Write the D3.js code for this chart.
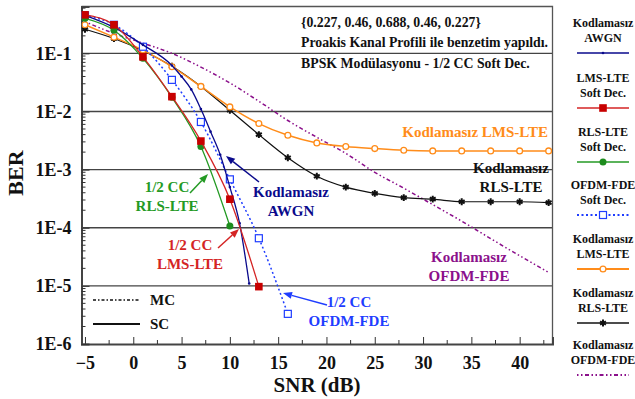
<!DOCTYPE html>
<meta charset="utf-8">
<style>
  body { margin: 0; background: #fff; }
  text { font-family: "Liberation Serif", "Times New Roman", serif; font-weight: bold; }
</style>
<body>
<script src="https://cdn.jsdelivr.net/npm/d3@7"></script>
<script>

    // ---- data ----
    var snrAwgn = [-5, -2, 1, 4, 5, 6, 7, 8, 9, 10, 11, 12];
    var berAwgn = [0.45, 0.28, 0.14, 0.062, 0.04, 0.024, 0.011, 4.5e-3, 1.8e-3, 5e-4, 1.2e-4, 1.1e-5];

    var snrLms = [-5, -2, 1, 4, 7, 10, 13];
    var berLms = [0.46, 0.31, 0.087, 0.018, 3.1e-3, 3.1e-4, 9.7e-6];

    var snrRls = [-5, -2, 1, 4, 7, 10];
    var berRls = [0.40, 0.25, 0.082, 0.0175, 2.5e-3, 1.07e-4];

    var snrOfdm = [-5, -2, 1, 4, 7, 10, 13, 16];
    var berOfdm = [0.45, 0.31, 0.13, 0.035, 6.6e-3, 6.8e-4, 6.6e-5, 3.3e-6];

    var snrFull = [-5, -2, 1, 4, 7, 10, 13, 16, 19, 22, 25, 28, 31, 34, 37, 40, 43];
    var berLmsUnc = [0.31, 0.19, 0.114, 0.059, 0.027, 0.012, 6.2e-3, 3.9e-3, 2.88e-3, 2.5e-3, 2.3e-3, 2.15e-3, 2.1e-3, 2.1e-3, 2.1e-3, 2.1e-3, 2.1e-3];
    var berRlsUnc = [0.26, 0.18, 0.111, 0.06, 0.027, 0.0105, 4e-3, 1.6e-3, 7.7e-4, 5e-4, 3.9e-4, 3.3e-4, 3.1e-4, 2.8e-4, 2.8e-4, 2.8e-4, 2.7e-4];
    var berOfdmUnc = [0.35, 0.22, 0.15, 0.1, 0.058, 0.031, 0.015, 7e-3, 3.6e-3, 1.9e-3, 9e-4, 4.8e-4, 2.5e-4, 1.3e-4, 6.5e-5, 3.3e-5, 1.7e-5];

    var xTicks = [-5, 0, 5, 10, 15, 20, 25, 30, 35, 40];
    var yTicks = [1e-6, 1e-5, 1e-4, 1e-3, 1e-2, 1e-1];
    var yTickLabels = ["1E-6", "1E-5", "1E-4", "1E-3", "1E-2", "1E-1"];

    var W = 635, H = 399;
    var pLeft = 81.5, pRight = 552.5, pTop = 6.5, pBottom = 344;

    var x = d3.scaleLinear().domain([-5.36, 43.4]).range([pLeft, pRight]);
    var y = d3.scaleLog().domain([1e-6, 0.64]).range([pBottom, pTop]);

    var svg = d3.select("body").append("svg")
        .attr("width", W)
        .attr("height", H);

    svg.append("clipPath").attr("id", "plot")
        .append("rect")
        .attr("x", pLeft).attr("y", pTop)
        .attr("width", pRight - pLeft).attr("height", pBottom - pTop);

    // grid lines at decades
    svg.append("g").selectAll("line")
        .data(yTicks.slice(1))
        .enter().append("line")
        .attr("x1", pLeft).attr("x2", pRight)
        .attr("y1", function (d) { return y(d); })
        .attr("y2", function (d) { return y(d); })
        .attr("stroke", "#444").attr("stroke-width", 1.3);

    // top / right frame
    svg.append("path")
        .attr("d", "M" + pLeft + "," + pTop + "H" + pRight + "V" + pBottom)
        .attr("fill", "none").attr("stroke", "#555").attr("stroke-width", 1.3);

    // x axis
    var xAxis = svg.append("g")
        .attr("transform", "translate(0," + pBottom + ")")
        .call(d3.axisBottom(x).tickValues(xTicks).tickSize(-7).tickPadding(12).tickFormat(d3.format("d")));
    xAxis.selectAll(".tick text").attr("font-size", 18).attr("fill", "#111")
        .attr("font-family", "Liberation Serif, serif").attr("font-weight", "bold");
    xAxis.append("g").selectAll("line")
        .data(d3.range(-2.5, 43.4, 5))
        .enter().append("line")
        .attr("x1", function (d) { return x(d); }).attr("x2", function (d) { return x(d); })
        .attr("y1", 0).attr("y2", -4).attr("stroke", "#333");
    xAxis.select(".domain").attr("stroke", "#444").attr("stroke-width", 2);
    xAxis.selectAll(".tick line").attr("stroke", "#333");

    // y axis
    var yAxis = svg.append("g")
        .attr("transform", "translate(" + pLeft + ",0)")
        .call(d3.axisLeft(y).tickValues(yTicks).tickSize(-8).tickPadding(10)
            .tickFormat(function (d, i) { return yTickLabels[i]; }));
    yAxis.selectAll(".tick text").attr("font-size", 18).attr("fill", "#111")
        .attr("font-family", "Liberation Serif, serif").attr("font-weight", "bold");
    var minors = [];
    yTicks.slice(0, -1).forEach(function (d) {
        for (var k = 2; k <= 9; k++) minors.push(d * k);
    });
    minors.push(0.2, 0.3, 0.4, 0.5, 0.6);
    yAxis.append("g").selectAll("line")
        .data(minors)
        .enter().append("line")
        .attr("x1", 0).attr("x2", 4)
        .attr("y1", function (d) { return y(d); }).attr("y2", function (d) { return y(d); })
        .attr("stroke", "#333");
    yAxis.select(".domain").attr("stroke", "#444").attr("stroke-width", 2);
    yAxis.selectAll(".tick line").attr("stroke", "#333");

    // axis titles
    svg.append("text")
        .attr("transform", "translate(23,173) rotate(-90)")
        .attr("text-anchor", "middle")
        .attr("font-size", 22).attr("fill", "#111")
        .text("BER");
    svg.append("text")
        .attr("x", 317).attr("y", 392)
        .attr("text-anchor", "middle")
        .attr("font-size", 21).attr("fill", "#111")
        .text("SNR (dB)");

    // ---- curves ----
    var series = [
        {snr: snrFull, ber: berOfdmUnc, color: "#8b108b", dash: "1.5,2.5,1.5,2.5,4,2.5", width: 1.5, marker: "none"},
        {snr: snrFull, ber: berRlsUnc, color: "#111", dash: null, width: 1.2, marker: "asterisk"},
        {snr: snrFull, ber: berLmsUnc, color: "#ff8c1a", dash: null, width: 1.5, marker: "circle"},
        {snr: snrOfdm, ber: berOfdm, color: "#1f3dff", dash: "2,2.5", width: 1.5, marker: "square-open"},
        {snr: snrAwgn, ber: berAwgn, color: "#0a0a8c", dash: null, width: 1.3, marker: "dot"},
        {snr: snrRls, ber: berRls, color: "#249a24", dash: null, width: 1.3, marker: "disc"},
        {snr: snrLms, ber: berLms, color: "#d42424", dash: null, width: 1.3, marker: "square"}
    ];

    var line = d3.line()
        .x(function (d) { return x(d[0]); })
        .y(function (d) { return y(d[1]); })
        .curve(d3.curveMonotoneX);

    var plot = svg.append("g").attr("clip-path", "url(#plot)");

    function drawMarker(g, kind, color, px, py) {
        if (kind === "square") {
            g.append("rect").attr("x", px - 3.8).attr("y", py - 3.8).attr("width", 7.6).attr("height", 7.6)
                .attr("fill", "#c80000");
        } else if (kind === "square-open") {
            g.append("rect").attr("x", px - 3.5).attr("y", py - 3.5).attr("width", 7).attr("height", 7)
                .attr("fill", "#fff").attr("stroke", color).attr("stroke-width", 1.2);
        } else if (kind === "disc") {
            g.append("circle").attr("cx", px).attr("cy", py).attr("r", 3.5).attr("fill", "#1e8c1e");
        } else if (kind === "circle") {
            g.append("circle").attr("cx", px).attr("cy", py).attr("r", 2.9)
                .attr("fill", "#fff").attr("stroke", color).attr("stroke-width", 1.3);
        } else if (kind === "dot") {
            g.append("circle").attr("cx", px).attr("cy", py).attr("r", 1.3).attr("fill", color);
        } else if (kind === "asterisk") {
            var sym = d3.symbolAsterisk || d3.symbolCross;
            g.append("path").attr("d", d3.symbol().type(sym).size(32)())
                .attr("transform", "translate(" + px + "," + py + ")")
                .attr("fill", "none").attr("stroke", color).attr("stroke-width", 2);
        }
    }

    series.forEach(function (s) {
        var pts = s.snr.map(function (v, i) { return [v, s.ber[i]]; });
        plot.append("path")
            .attr("d", line(pts))
            .attr("fill", "none")
            .attr("stroke", s.color)
            .attr("stroke-width", s.width)
            .attr("stroke-dasharray", s.dash);
        var g = plot.append("g");
        pts.forEach(function (p) { drawMarker(g, s.marker, s.color, x(p[0]), y(p[1])); });
    });

    // ---- annotations ----
    var notes = svg.append("g").attr("font-size", 13.8).attr("fill", "#111");
    notes.append("text").attr("x", 301).attr("y", 27).text("{0.227, 0.46, 0.688, 0.46, 0.227}");
    notes.append("text").attr("x", 301).attr("y", 47).text("Proakis Kanal Profili ile benzetim yapıldı.");
    notes.append("text").attr("x", 301).attr("y", 68).text("BPSK Modülasyonu - 1/2 CC Soft Dec.");

    function label(lines, cx, cy, color, anchor) {
        var t = svg.append("text").attr("font-size", 15).attr("fill", color)
            .attr("text-anchor", anchor || "middle");
        lines.forEach(function (l, i) {
            t.append("tspan").attr("x", cx).attr("y", cy + i * 19).text(l);
        });
    }
    function arrow(x1, y1, x2, y2, color) {
        var a = Math.atan2(y2 - y1, x2 - x1), L = 9, w = 3.5;
        var bx = x2 - L * Math.cos(a), by = y2 - L * Math.sin(a);
        svg.append("line").attr("x1", x1).attr("y1", y1).attr("x2", bx).attr("y2", by)
            .attr("stroke", color).attr("stroke-width", 1.5);
        svg.append("path")
            .attr("d", "M" + x2 + "," + y2 +
                "L" + (bx + w * Math.sin(a)) + "," + (by - w * Math.cos(a)) +
                "L" + (bx - w * Math.sin(a)) + "," + (by + w * Math.cos(a)) + "Z")
            .attr("fill", color);
    }

    label(["Kodlamasız LMS-LTE"], 548, 137, "#ff8c1a", "end");
    label(["Kodlamasız", "RLS-LTE"], 511, 173, "#111");
    label(["Kodlamasız", "OFDM-FDE"], 469, 262, "#8b108b");
    label(["Kodlamasız", "AWGN"], 291, 197, "#0a0a8c");
    label(["1/2 CC", "RLS-LTE"], 167, 192, "#249a24");
    label(["1/2 CC", "LMS-LTE"], 190, 250, "#d42424");
    label(["1/2 CC", "OFDM-FDE"], 349, 307, "#1f3dff");

    arrow(259, 182, 226, 156, "#0a0a8c");
    arrow(190, 193, 208, 174, "#249a24");
    arrow(218, 248, 239, 229, "#d42424");
    arrow(327, 305, 283, 293, "#1f3dff");

    // MC / SC key
    svg.append("line").attr("x1", 93).attr("x2", 140).attr("y1", 300).attr("y2", 300)
        .attr("stroke", "#111").attr("stroke-width", 1.5).attr("stroke-dasharray", "3,2,1.5,2");
    svg.append("line").attr("x1", 93).attr("x2", 140).attr("y1", 324).attr("y2", 324)
        .attr("stroke", "#111").attr("stroke-width", 2);
    svg.append("text").attr("x", 150).attr("y", 305).attr("font-size", 15).attr("fill", "#111").text("MC");
    svg.append("text").attr("x", 150).attr("y", 329).attr("font-size", 15).attr("fill", "#111").text("SC");

    // ---- legend on the right ----
    var legendItems = [
        {name: ["Kodlamasız", "AWGN"], y: 53, s: 4},
        {name: ["LMS-LTE", "Soft Dec."], y: 108, s: 6},
        {name: ["RLS-LTE", "Soft Dec."], y: 162, s: 5},
        {name: ["OFDM-FDE", "Soft Dec."], y: 215, s: 3},
        {name: ["Kodlamasız", "LMS-LTE"], y: 269, s: 2},
        {name: ["Kodlamasız", "RLS-LTE"], y: 323, s: 1},
        {name: ["Kodlamasız", "OFDM-FDE"], y: 375, s: 0}
    ];
    var lg = svg.append("g");
    legendItems.forEach(function (it) {
        var s = series[it.s];
        var t = lg.append("text").attr("font-size", 12).attr("fill", "#111").attr("text-anchor", "middle");
        t.append("tspan").attr("x", 603).attr("y", it.y - 26).text(it.name[0]);
        t.append("tspan").attr("x", 603).attr("y", it.y - 11).text(it.name[1]);
        lg.append("line").attr("x1", 577).attr("x2", 629).attr("y1", it.y).attr("y2", it.y)
            .attr("stroke", s.color).attr("stroke-width", s.width + 0.3)
            .attr("stroke-dasharray", s.dash);
        drawMarker(lg, s.marker, s.color, 603, it.y);
    });

</script>
</body>
